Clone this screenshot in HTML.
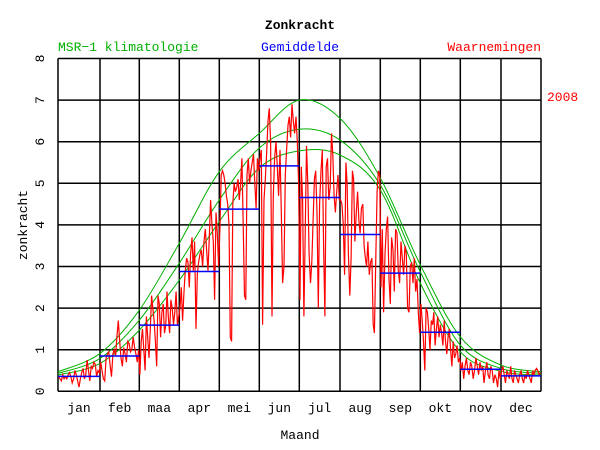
<!DOCTYPE html>
<html><head><meta charset="utf-8"><style>
html,body{margin:0;padding:0;background:#fff;}
svg{display:block;font-family:"Liberation Mono",monospace;}
</style></head><body>
<svg width="600" height="450" viewBox="0 0 600 450">
<g id="grid"></g>
<g id="green"></g>
<g id="red"></g>
<g id="blue"></g>
<g id="labels"></g>
<text x="300" y="29" text-anchor="middle" font-size="13" font-weight="bold">Zonkracht</text>
<text x="58" y="51" font-size="13" fill="#00b000">MSR−1 klimatologie</text>
<text x="300" y="51" text-anchor="middle" font-size="13" fill="#0000ff">Gemiddelde</text>
<text x="541" y="51" text-anchor="end" font-size="13" fill="#ff0000">Waarnemingen</text>
<text x="547" y="101" font-size="13" fill="#ff0000">2008</text>
<text x="300" y="439" text-anchor="middle" font-size="13">Maand</text>
<text transform="translate(27,225) rotate(-90)" text-anchor="middle" font-size="13">zonkracht</text>
</svg>
<script>
const months=["jan","feb","maa","apr","mei","jun","jul","aug","sep","okt","nov","dec"];
const yTicks=[0,1,2,3,4,5,6,7,8];
const monthMeans=[0.36,0.85,1.59,2.88,4.38,5.42,4.66,3.77,2.84,1.42,0.53,0.37];
const climHigh=[0.47,0.91,1.95,3.56,5.28,6.2,7.0,6.56,5.13,3.04,1.31,0.63,0.47];
const climMid=[0.43,0.79,1.71,3.08,4.6,5.85,6.3,6.04,4.96,2.87,1.11,0.55,0.43];
const climLow=[0.39,0.67,1.47,2.67,4.08,5.37,5.78,5.68,4.84,2.6,0.95,0.48,0.39];
const obsJan=[0.35,0.3,0.25,0.4,0.3,0.35,0.3,0.4,0.45,0.35,0.2,0.3,0.5,0.4,0.25,0.1,0.3,0.45,0.55,0.3,0.4,0.75,0.5,0.25,0.6,0.55,0.7,0.65,0.35,0.5,0.45];
const obsFeb=[0.7,0.5,0.3,0.25,0.8,0.9,0.95,0.6,0.35,0.9,1.0,0.85,1.3,1.7,1.2,0.8,0.6,1.05,0.9,0.7,1.2,1.15,0.95,1.0,1.3,1.05,0.9,0.7,1.0];
const obsMar=[0.4,1.2,1.5,1.0,0.5,1.8,1.3,0.8,1.5,2.3,2.0,1.7,1.2,0.6,2.3,2.1,1.3,1.9,2.1,1.4,1.6,2.4,1.8,1.4,2.2,2.0,1.6,1.9,2.4,1.6,1.8];
const obsApr=[2.0,2.5,1.7,2.4,2.9,3.2,3.1,2.5,3.3,3.7,2.9,3.6,1.5,2.8,3.1,3.3,3.4,3.0,3.6,3.9,3.4,2.9,3.7,4.6,4.0,3.6,2.2,4.3,3.8,3.0];
const obsMay=[3.9,5.2,5.3,5.2,5.0,4.7,4.5,4.0,1.3,1.2,4.5,5.0,4.8,4.9,5.1,4.6,5.0,5.6,4.0,2.3,2.2,5.2,5.6,5.0,5.3,5.5,5.7,5.0,4.4,5.6,5.3];
const obsJun=[5.6,5.8,1.6,4.6,5.1,5.7,6.5,6.8,6.0,1.8,4.7,5.6,6.0,5.4,4.7,5.8,4.3,2.6,3.0,5.2,5.8,6.4,6.6,6.1,6.9,6.5,6.2,6.6,6.0,5.0];
const obsJul=[2.2,5.4,4.6,1.8,3.8,5.9,5.0,3.3,2.6,3.1,4.1,5.1,5.3,4.3,2.0,4.5,5.3,5.8,3.5,1.8,5.4,5.6,4.6,4.9,6.2,5.7,4.7,4.3,4.8,5.2,4.6];
const obsAug=[4.6,4.5,4.0,2.8,5.5,5.0,3.3,2.3,3.2,5.3,5.1,3.6,4.3,4.8,4.1,3.8,4.4,4.5,3.5,3.2,3.0,3.6,2.8,3.1,3.2,1.6,1.4,3.2,4.8,5.3,5.2];
const obsSep=[2.5,3.9,1.9,3.3,3.9,4.2,2.7,2.1,3.7,3.4,2.4,3.9,3.8,2.9,2.6,3.6,3.2,2.8,3.5,3.3,2.0,1.9,3.0,3.1,2.6,3.2,2.4,2.7,1.9,1.4];
const obsOct=[2.1,1.7,1.2,0.5,2.0,1.9,1.5,1.0,1.7,1.6,1.9,1.1,1.5,1.8,1.3,1.6,1.4,1.1,1.7,1.2,0.9,1.3,1.5,1.0,0.6,1.2,0.8,0.9,1.1,0.7,0.8];
const obsNov=[0.5,0.7,0.3,0.6,0.8,0.5,0.4,0.7,0.6,0.3,0.5,0.8,0.6,0.4,0.7,0.5,0.6,0.2,0.5,0.7,0.4,0.3,0.6,0.5,0.2,0.4,0.3,0.1,0.5,0.3];
const obsDec=[0.5,0.6,0.4,0.2,0.5,0.4,0.3,0.6,0.3,0.2,0.5,0.4,0.3,0.2,0.4,0.5,0.3,0.2,0.4,0.3,0.5,0.4,0.3,0.2,0.5,0.4,0.5,0.55,0.5,0.4,0.45];
const obs=[obsJan,obsFeb,obsMar,obsApr,obsMay,obsJun,obsJul,obsAug,obsSep,obsOct,obsNov,obsDec];

const NS="http://www.w3.org/2000/svg";
const bounds=[58,100,139.3,179.3,219.3,259.3,299.3,340,380.3,420.3,460.3,501,541];
function xm(m,f){return bounds[m]+(bounds[m+1]-bounds[m])*f;}
function y(v){return 391.3-v*41.6;}
function mk(t,a,p){const e=document.createElementNS(NS,t);for(const k in a)e.setAttribute(k,a[k]);p.appendChild(e);return e;}
const grid=document.getElementById('grid');
yTicks.forEach(v=>{
  const l=mk('line',{x1:58,x2:541,y1:y(v),y2:y(v),stroke:'#000','stroke-width':1.5},grid);
  
  
  const t=mk('text',{transform:`translate(44,${y(v)}) rotate(-90)`,'text-anchor':'middle','font-size':13},grid);
  
  
  t.textContent=v;
});
bounds.forEach(b=>{
  const l=mk('line',{x1:b,x2:b,y1:y(8),y2:y(0),stroke:'#000','stroke-width':1.5},grid);
  
  
});
const labs=document.getElementById('labels');
months.forEach((m,i)=>{
  const t=mk('text',{x:xm(i,0.5),y:412,'text-anchor':'middle','font-size':13},labs);
  
  
  t.textContent=m;
});
function smooth(vals){
  const pts=vals.map((v,i)=>[bounds[i],y(v)]);
  let d=`M${pts[0][0]},${pts[0][1]}`;
  for(let i=0;i<pts.length-1;i++){
    const p0=pts[Math.max(0,i-1)],p1=pts[i],p2=pts[i+1],p3=pts[Math.min(pts.length-1,i+2)];
    d+=` C${p1[0]+(p2[0]-p0[0])/6},${p1[1]+(p2[1]-p0[1])/6} ${p2[0]-(p3[0]-p1[0])/6},${p2[1]-(p3[1]-p1[1])/6} ${p2[0]},${p2[1]}`;
  }
  return d;
}
const green=document.getElementById('green');
[climHigh,climMid,climLow].forEach(c=>{
  const p=mk('path',{d:smooth(c),fill:'none',stroke:'#00b000','stroke-width':1},green);
  
  
});
const red=document.getElementById('red');
let pts=[];
obs.forEach((arr,m)=>arr.forEach((v,d)=>pts.push(xm(m,(d+0.5)/arr.length).toFixed(1)+','+y(v).toFixed(1))));
const pl=mk('polyline',{points:pts.join(' '),fill:'none',stroke:'#ff0000','stroke-width':1.2},red);


const blue=document.getElementById('blue');
monthMeans.forEach((v,i)=>{
  const l=mk('line',{x1:bounds[i],x2:bounds[i+1],y1:y(v),y2:y(v),stroke:'#0000ff','stroke-width':1.5},blue);
  
  
});
</script>
</body></html>
